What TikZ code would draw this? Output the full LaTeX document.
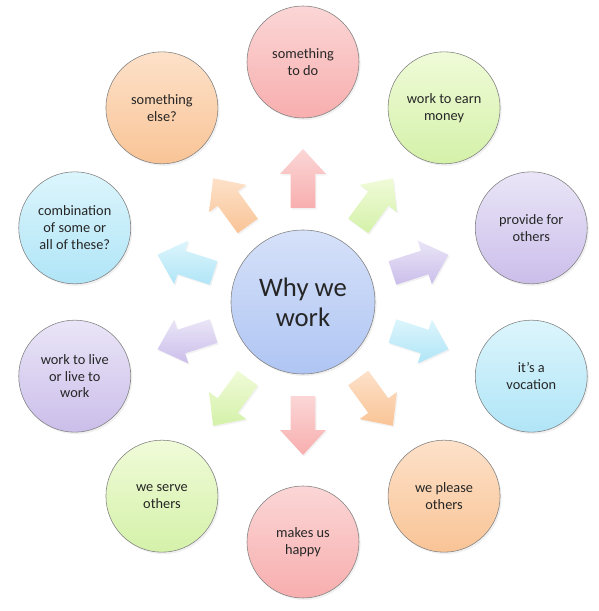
\documentclass[tikz,border=0pt]{standalone}
\usepackage{fontspec}
\setmainfont{Carlito}
\usepackage{tikz}
\usetikzlibrary{calc,shadows}

\definecolor{pinkT}{HTML}{FBD6D6}
\definecolor{pinkB}{HTML}{F8AEAE}
\definecolor{greenT}{HTML}{F0FBD8}
\definecolor{greenB}{HTML}{D4F1A9}
\definecolor{purpleT}{HTML}{EAE5F7}
\definecolor{purpleB}{HTML}{CBBEEA}
\definecolor{cyanT}{HTML}{DCF5FC}
\definecolor{cyanB}{HTML}{B0E5F7}
\definecolor{orangeT}{HTML}{FDE1C9}
\definecolor{orangeB}{HTML}{F9C496}
\definecolor{blueT}{HTML}{D6E1F9}
\definecolor{blueB}{HTML}{AFC5F3}

\begin{document}
\begin{tikzpicture}
	\tikzstyle{bubble}=[circle, draw=black!50, line width=0.4pt, minimum size=2.8cm, inner sep=0pt, align=center, text=black!85, font=\fontsize{10.2}{12}\selectfont, drop shadow={opacity=0.12, shadow xshift=0.04cm, shadow yshift=-0.05cm}]
	\tikzstyle{hub}=[bubble, minimum size=3.6cm, font=\fontsize{19}{21.5}\selectfont]
	\tikzstyle{blockarrow}=[draw=none, drop shadow={opacity=0.1, shadow xshift=0.03cm, shadow yshift=-0.04cm}]
	\useasboundingbox (-7.575,-7.725) rectangle (7.375,7.55);
	% centre
	\node[hub, top color=blueT, bottom color=blueB] (why) at (0,0) {Why we\\work};
	% reasons round it, with one arrow each
	\foreach \ang/\ct/\cb/\txt [count=\i] in {
		90/pinkT/pinkB/{something\\to do},
		54/greenT/greenB/{work to earn\\money},
		18/purpleT/purpleB/{provide for\\others},
		-18/cyanT/cyanB/{it's a\\vocation},
		-54/orangeT/orangeB/{we please\\others},
		-90/pinkT/pinkB/{makes us\\happy},
		-126/greenT/greenB/{we serve\\others},
		-162/purpleT/purpleB/{work to live\\or live to\\work},
		162/cyanT/cyanB/{combination\\of some or\\all of these?},
		126/orangeT/orangeB/{something\\else?}}
	{
		\node[bubble, top color=\ct, bottom color=\cb] (reason\i) at (\ang:6) {\txt};
		\shade[blockarrow, top color=\ct, bottom color=\cb]
			($(\ang:2.35)+(\ang+90:0.31)$) -- ($(\ang:3.2)+(\ang+90:0.31)$)
			-- ($(\ang:3.2)+(\ang+90:0.575)$) -- (\ang:3.825)
			-- ($(\ang:3.2)+(\ang-90:0.575)$) -- ($(\ang:3.2)+(\ang-90:0.31)$)
			-- ($(\ang:2.35)+(\ang-90:0.31)$) -- cycle;
	}
\end{tikzpicture}
\end{document}
